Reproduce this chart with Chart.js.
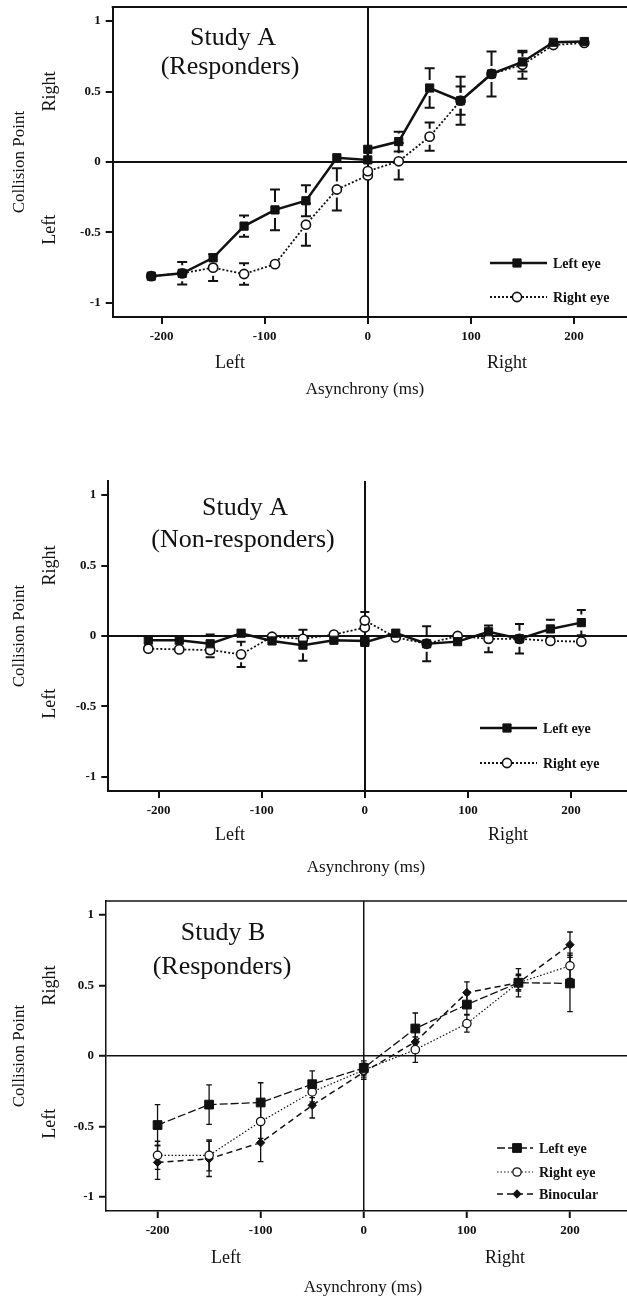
<!DOCTYPE html>
<html>
<head>
<meta charset="utf-8">
<script src="https://cdn.jsdelivr.net/npm/chart.js@4/dist/chart.umd.min.js"></script>
<style>
html,body{margin:0;padding:0;background:#fff;}
body{width:627px;height:1296px;position:relative;overflow:hidden;}
canvas{position:absolute;left:0;display:block;}
</style>
</head>
<body>
<canvas id="c1" width="627" height="410" style="top:0px"></canvas>
<canvas id="c2" width="627" height="410" style="top:474px"></canvas>
<canvas id="c3" width="627" height="402" style="top:894px"></canvas>
<script>
// ---------- DATA ----------
const xTicks = [-200, -100, 0, 100, 200];
const xTickLabels = ['-200', '-100', '0', '100', '200'];
const yTicks = [-1, -0.5, 0, 0.5, 1];
const yTickLabels = ['-1', '-0.5', '0', '0.5', '1'];

// Study A asynchronies (ms); 0 appears twice
const xA = [-210, -180, -150, -120, -90, -60, -30, 0, 0, 30, 60, 90, 120, 150, 180, 210];

// Study A (Responders)
const aRespLeft     = [-0.81, -0.79, -0.68, -0.455, -0.34, -0.275, 0.03, 0.015, 0.09, 0.145, 0.525, 0.435, 0.625, 0.71, 0.85, 0.855];
const aRespLeftErr  = [0, 0.08, 0, 0.075, 0.145, 0.11, 0, 0, 0, 0.07, 0.14, 0.1, 0.16, 0.068, 0, 0];
const aRespRight    = [-0.81, -0.79, -0.75, -0.795, -0.725, -0.445, -0.195, -0.095, -0.065, 0.005, 0.18, 0.435, 0.625, 0.69, 0.83, 0.845];
const aRespRightErr = [0, 0, 0.095, 0.077, 0, 0.15, 0.15, 0, 0, 0.13, 0.1, 0.17, 0, 0.1, 0, 0];

// Study A (Non-responders)
const aNonLeft     = [-0.03, -0.03, -0.055, 0.02, -0.035, -0.065, -0.03, -0.035, -0.045, 0.02, -0.055, -0.04, 0.03, -0.02, 0.05, 0.095];
const aNonLeftErr  = [0, 0, 0.065, 0, 0, 0.11, 0, 0, 0, 0, 0, 0, 0, 0.105, 0.065, 0.09];
const aNonRight    = [-0.09, -0.095, -0.1, -0.13, -0.005, -0.02, 0.01, 0.06, 0.11, -0.01, -0.055, 0, -0.02, -0.02, -0.035, -0.04];
const aNonRightErr = [0, 0, 0.05, 0.09, 0, 0, 0, 0, 0.06, 0, 0.125, 0, 0.095, 0, 0, 0];

// Study B (Responders)
const xB = [-200, -150, -100, -50, 0, 50, 100, 150, 200];
const bLeft      = [-0.49, -0.345, -0.33, -0.2, -0.085, 0.195, 0.365, 0.52, 0.515];
const bLeftErr   = [0.145, 0.14, 0.14, 0.095, 0.05, 0.11, 0.07, 0.1, 0.2];
const bRight     = [-0.705, -0.705, -0.465, -0.255, -0.1, 0.045, 0.23, 0.52, 0.64];
const bRightErr  = [0.1, 0.11, 0.12, 0.07, 0.05, 0.09, 0.06, 0.06, 0.09];
const bBin       = [-0.755, -0.73, -0.615, -0.35, -0.115, 0.1, 0.45, 0.52, 0.79];
const bBinErr    = [0.12, 0.125, 0.135, 0.09, 0.05, 0.08, 0.076, 0.05, 0.09];

// ---------- STYLE / LAYOUT ----------
const INK = '#111';
const SERIF = '"Liberation Serif", "Times New Roman", serif';

function pts(xs, ys) { return xs.map((x, i) => ({ x: x, y: ys[i] })); }

function drawMark(ctx, style, x, y, r, fill, bw) {
  ctx.beginPath();
  if (style === 'rect') { const s = r * Math.SQRT1_2; ctx.rect(x - s, y - s, 2 * s, 2 * s); }
  else if (style === 'rectRot') { ctx.moveTo(x, y - r); ctx.lineTo(x + r, y); ctx.lineTo(x, y + r); ctx.lineTo(x - r, y); ctx.closePath(); }
  else { ctx.arc(x, y, r, 0, Math.PI * 2); }
  ctx.setLineDash([]);
  ctx.fillStyle = fill; ctx.fill();
  ctx.lineWidth = bw; ctx.strokeStyle = INK; ctx.stroke();
}

function noPad(s) { s.paddingTop = 0; s.paddingBottom = 0; s.paddingLeft = 0; s.paddingRight = 0; }

function makeDecor(o) {
  return {
    id: 'decor',
    beforeDatasetsDraw(chart) {
      const ctx = chart.ctx, a = chart.chartArea, ys = chart.scales.y;
      ctx.save();
      if (o.topBorder) {
        ctx.strokeStyle = INK; ctx.lineWidth = o.borderW;
        ctx.beginPath(); ctx.moveTo(a.left - 1, a.top); ctx.lineTo(a.right, a.top); ctx.stroke();
      }
      // error bars
      ctx.strokeStyle = INK; ctx.lineWidth = o.errW; ctx.setLineDash([]);
      chart.data.datasets.forEach((ds, di) => {
        const meta = chart.getDatasetMeta(di);
        ds.data.forEach((p, i) => {
          const e = ds.errorBars[i];
          if (!e) return;
          const el = meta.data[i];
          const px = el.x, py = el.y;
          const yt = ys.getPixelForValue(p.y + e), yb = ys.getPixelForValue(p.y - e);
          ctx.beginPath();
          if (o.gap > 0) {
            if (py - o.gap > yt) { ctx.moveTo(px, yt); ctx.lineTo(px, py - o.gap); }
            if (py + o.gap < yb) { ctx.moveTo(px, py + o.gap); ctx.lineTo(px, yb); }
          } else {
            ctx.moveTo(px, yt); ctx.lineTo(px, yb);
          }
          ctx.moveTo(px - o.cap, yt); ctx.lineTo(px + o.cap, yt);
          ctx.moveTo(px - o.cap, yb); ctx.lineTo(px + o.cap, yb);
          ctx.stroke();
        });
      });
      ctx.restore();
    },
    afterDraw(chart) {
      const ctx = chart.ctx, ys = chart.scales.y;
      ctx.save();
      ctx.fillStyle = INK;
      ctx.textAlign = 'center'; ctx.textBaseline = 'middle';
      // panel titles
      ctx.font = '26px ' + SERIF;
      ctx.fillText(o.title1, o.t1[0], o.t1[1]);
      ctx.fillText(o.title2, o.t2[0], o.t2[1]);
      // y axis texts
      const rot = (txt, x, y, font) => {
        ctx.save(); ctx.translate(x, y); ctx.rotate(-Math.PI / 2);
        ctx.font = font; ctx.fillText(txt, 0, 0); ctx.restore();
      };
      rot('Collision Point', 20, ys.getPixelForValue(0), '17px ' + SERIF);
      rot('Right', 50, ys.getPixelForValue(0.5), '18px ' + SERIF);
      rot('Left', 50, ys.getPixelForValue(-0.48), '18px ' + SERIF);
      // x axis texts
      ctx.font = '18px ' + SERIF;
      ctx.fillText('Left', o.lrX[0], o.lrY);
      ctx.fillText('Right', o.lrX[1], o.lrY);
      ctx.font = '17px ' + SERIF;
      ctx.fillText('Asynchrony (ms)', o.asyX, o.asyY);
      // legend
      ctx.textAlign = 'left';
      ctx.font = 'bold 14px ' + SERIF;
      chart.data.datasets.forEach((ds, di) => {
        const ly = o.legY[di];
        ctx.save();
        ctx.strokeStyle = INK; ctx.lineWidth = ds.borderWidth;
        ctx.setLineDash(ds.borderDash || []);
        ctx.beginPath(); ctx.moveTo(o.legX[0], ly); ctx.lineTo(o.legX[2], ly); ctx.stroke();
        ctx.restore();
        drawMark(ctx, ds.pointStyle, o.legX[1], ly, ds.pointRadius, ds.pointBackgroundColor, ds.pointBorderWidth);
        ctx.fillStyle = INK;
        ctx.fillText(ds.label, o.legX[3], ly + 1);
      });
      ctx.restore();
    }
  };
}

function makePanel(id, o) {
  const ctx = document.getElementById(id).getContext('2d');
  return new Chart(ctx, {
    type: 'scatter',
    data: { datasets: o.datasets },
    options: {
      responsive: false,
      animation: false,
      events: [],
      devicePixelRatio: 1,
      layout: { autoPadding: false, padding: { top: 7, left: 0, right: 0, bottom: 0 } },
      plugins: { legend: { display: false }, tooltip: { enabled: false }, title: { display: false } },
      scales: {
        x: {
          type: 'linear', min: o.xMin, max: o.xMax,
          afterBuildTicks: s => { s.ticks = xTicks.map(v => ({ value: v })); },
          afterFit: s => { s.height = o.h - 7 - 310; noPad(s); },
          grid: {
            drawOnChartArea: true,
            color: c => (c.tick && c.tick.value === 0) ? INK : 'rgba(0,0,0,0)',
            lineWidth: o.zeroW, tickLength: 7, tickColor: INK, tickWidth: 2
          },
          border: { display: true, color: INK, width: o.borderW },
          ticks: {
            color: INK, font: { family: SERIF, size: 13, weight: 'bold' }, padding: 5,
            maxRotation: 0, autoSkip: false,
            callback: v => xTickLabels[xTicks.indexOf(v)]
          }
        },
        y: {
          type: 'linear', min: -1.1, max: 1.1,
          afterBuildTicks: s => { s.ticks = yTicks.map(v => ({ value: v })); },
          afterFit: s => { s.width = o.left; noPad(s); },
          grid: {
            drawOnChartArea: true,
            color: c => (c.tick && c.tick.value === 0) ? INK : 'rgba(0,0,0,0)',
            lineWidth: o.zeroW, tickLength: 7, tickColor: INK, tickWidth: 2
          },
          border: { display: true, color: INK, width: o.borderW },
          ticks: {
            color: INK, font: { family: SERIF, size: 13, weight: 'bold' }, padding: 5,
            autoSkip: false,
            callback: v => yTickLabels[yTicks.indexOf(v)]
          }
        }
      }
    },
    plugins: [makeDecor(o)]
  });
}

function ds(label, xs, ys, errs, st) {
  return Object.assign({
    label: label, data: pts(xs, ys), errorBars: errs, showLine: true,
    borderColor: INK, pointBorderColor: INK, pointHoverRadius: 0
  }, st);
}

const solidSq = { borderWidth: 2.5, borderDash: [], pointStyle: 'rect', pointRadius: 5.8, pointBackgroundColor: INK, pointBorderWidth: 1 };
const dotCirc = { borderWidth: 1.8, borderDash: [2, 2], pointStyle: 'circle', pointRadius: 4.6, pointBackgroundColor: '#fff', pointBorderWidth: 1.6 };

makePanel('c1', {
  h: 410, left: 112.7, xMin: -247.4, xMax: 251.4, zeroW: 2, borderW: 2, topBorder: true,
  errW: 2, cap: 5, gap: 8,
  title1: 'Study A', title2: '(Responders)', t1: [233, 38], t2: [230, 67],
  lrX: [230, 507], lrY: 363, asyX: 365, asyY: 390,
  legX: [490, 517, 547, 553], legY: [263, 297],
  datasets: [
    ds('Left eye', xA, aRespLeft, aRespLeftErr, solidSq),
    ds('Right eye', xA, aRespRight, aRespRightErr, dotCirc)
  ]
});

makePanel('c2', {
  h: 410, left: 108.3, xMin: -248.8, xMax: 254.3, zeroW: 2, borderW: 2, topBorder: false,
  errW: 2, cap: 4.5, gap: 8,
  title1: 'Study A', title2: '(Non-responders)', t1: [245, 34], t2: [243, 66],
  lrX: [230, 508], lrY: 361, asyX: 366, asyY: 394,
  legX: [480, 507, 537, 543], legY: [254, 289],
  datasets: [
    ds('Left eye', xA, aNonLeft, aNonLeftErr, solidSq),
    ds('Right eye', xA, aNonRight, aNonRightErr, dotCirc)
  ]
});

makePanel('c3', {
  h: 402, left: 106, xMin: -250, xMax: 255.3, zeroW: 1.5, borderW: 1.5, topBorder: true,
  errW: 1.3, cap: 2.8, gap: 0,
  title1: 'Study B', title2: '(Responders)', t1: [223, 39], t2: [222, 73],
  lrX: [226, 505], lrY: 364, asyX: 363, asyY: 394,
  legX: [497, 517, 533, 539], legY: [254, 278, 300],
  datasets: [
    ds('Left eye', xB, bLeft, bLeftErr, { borderWidth: 1.3, borderDash: [8, 3], pointStyle: 'rect', pointRadius: 6.2, pointBackgroundColor: INK, pointBorderWidth: 1 }),
    ds('Right eye', xB, bRight, bRightErr, { borderWidth: 1.2, borderDash: [1.5, 2], pointStyle: 'circle', pointRadius: 4.2, pointBackgroundColor: '#fff', pointBorderWidth: 1.3 }),
    ds('Binocular', xB, bBin, bBinErr, { borderWidth: 1.5, borderDash: [6, 4], pointStyle: 'rectRot', pointRadius: 4.2, pointBackgroundColor: INK, pointBorderWidth: 1 })
  ]
});
</script>
</body>
</html>
